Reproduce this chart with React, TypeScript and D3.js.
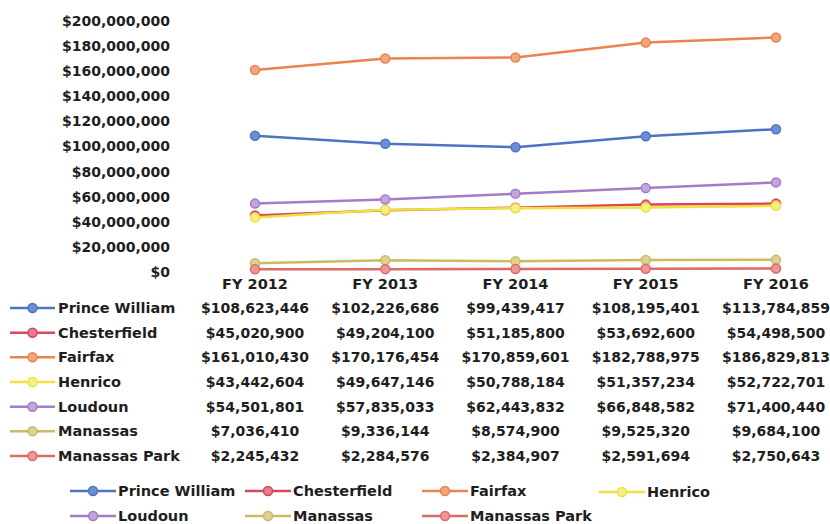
import React, { useEffect, useRef } from 'react';
import * as d3 from 'd3';

const years = ['FY 2012', 'FY 2013', 'FY 2014', 'FY 2015', 'FY 2016'];
const counties = ['Prince William', 'Chesterfield', 'Fairfax', 'Henrico', 'Loudoun', 'Manassas', 'Manassas Park'];
const princeWilliam = [108623446, 102226686, 99439417, 108195401, 113784859];
const chesterfield = [45020900, 49204100, 51185800, 53692600, 54498500];
const fairfax = [161010430, 170176454, 170859601, 182788975, 186829813];
const henrico = [43442604, 49647146, 50788184, 51357234, 52722701];
const loudoun = [54501801, 57835033, 62443832, 66848582, 71400440];
const manassas = [7036410, 9336144, 8574900, 9525320, 9684100];
const manassasPark = [2245432, 2284576, 2384907, 2591694, 2750643];
const yTicks = [0, 20e6, 40e6, 60e6, 80e6, 100e6, 120e6, 140e6, 160e6, 180e6, 200e6];

const seriesValues = [princeWilliam, chesterfield, fairfax, henrico, loudoun, manassas, manassasPark];
const colors = ['#4d73c2', '#d9475c', '#e9834f', '#eee23c', '#a27dc6', '#c9bb62', '#dd6a66'];
const fills = ['#6b8fd6', '#e77c8a', '#f2a679', '#f7ef86', '#c2a5dc', '#ddd196', '#eb9894'];

const W = 830;
const H = 524;
const font = '"DejaVu Sans", Verdana, sans-serif';

export default function App() {
  const ref = useRef<SVGSVGElement>(null);

  useEffect(() => {
    const svg = d3.select(ref.current);
    svg.selectAll('*').remove();

    const x = d3.scalePoint().domain(years).range([255, 776]);
    const y = d3.scaleLinear().domain([0, 200e6]).range([272, 21]);
    const money = (v: number) => '$' + d3.format(',')(v);

    // y axis labels
    svg.append('g')
      .attr('font-size', 14)
      .selectAll('text')
      .data(yTicks)
      .enter()
      .append('text')
      .attr('x', 170)
      .attr('y', d => y(d))
      .attr('dy', '0.35em')
      .attr('text-anchor', 'end')
      .text(d => money(d));

    // x labels
    svg.append('g')
      .selectAll('text')
      .data(years)
      .enter()
      .append('text')
      .attr('x', d => x(d)!)
      .attr('y', 284)
      .attr('dy', '0.35em')
      .attr('text-anchor', 'middle')
      .text(d => d);

    const line = d3.line<number>()
      .x((d, i) => x(years[i])!)
      .y(d => y(d));

    const series = svg.append('g')
      .selectAll('g')
      .data(seriesValues)
      .enter()
      .append('g');

    series.append('path')
      .attr('d', d => line(d))
      .attr('fill', 'none')
      .attr('stroke', (d, i) => colors[i])
      .attr('stroke-width', 2.5);

    series.selectAll('circle')
      .data((d, i) => d.map(v => ({ v, i })))
      .enter()
      .append('circle')
      .attr('cx', (d, j) => x(years[j])!)
      .attr('cy', d => y(d.v))
      .attr('r', 4.5)
      .attr('fill', d => fills[d.i])
      .attr('stroke', d => colors[d.i])
      .attr('stroke-width', 1.5);

    const marker = (g: d3.Selection<SVGGElement, any, any, any>, i: number, x0: number, x1: number) => {
      g.append('line')
        .attr('x1', x0).attr('x2', x1)
        .attr('y1', 0).attr('y2', 0)
        .attr('stroke', colors[i])
        .attr('stroke-width', 2.5);
      g.append('circle')
        .attr('cx', (x0 + x1) / 2)
        .attr('cy', 0)
        .attr('r', 4.5)
        .attr('fill', fills[i])
        .attr('stroke', colors[i])
        .attr('stroke-width', 1.5);
    };

    // data table
    const rowY = d3.scalePoint().domain(counties).range([308, 456]);
    counties.forEach((c, i) => {
      const row = svg.append('g').attr('transform', `translate(0,${rowY(c)})`);
      marker(row, i, 10, 55);
      row.append('text')
        .attr('x', 58)
        .attr('dy', '0.35em')
        .text(c);
      row.selectAll('text.val')
        .data(seriesValues[i])
        .enter()
        .append('text')
        .attr('class', 'val')
        .attr('x', (d, j) => x(years[j])!)
        .attr('dy', '0.35em')
        .attr('font-size', 14)
        .attr('text-anchor', 'middle')
        .text(d => money(d));
    });

    // legend
    const legendPos = [
      [70, 491], [245, 491], [422, 491], [599, 492],
      [70, 516], [245, 516], [422, 516],
    ];
    counties.forEach((c, i) => {
      const g = svg.append('g').attr('transform', `translate(${legendPos[i][0]},${legendPos[i][1]})`);
      marker(g, i, 0, 46);
      g.append('text')
        .attr('x', 48)
        .attr('dy', '0.35em')
        .text(c);
    });
  }, []);

  return (
    <svg
      ref={ref}
      width={W}
      height={H}
      style={{ position: 'absolute', left: 0, top: 0, background: '#fff' }}
      fontFamily={font}
      fontSize={14.5}
      fontWeight="bold"
      fill="#1e1e1e"
    />
  );
}
